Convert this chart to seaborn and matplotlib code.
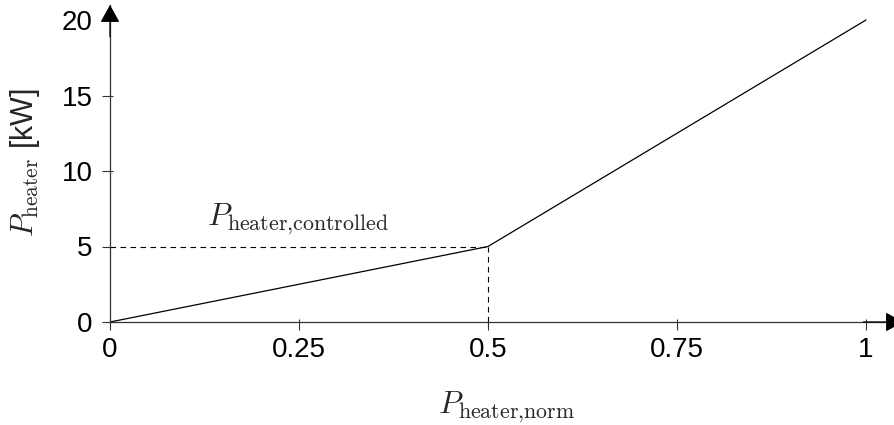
import matplotlib
matplotlib.use("Agg")
import matplotlib.pyplot as plt
import seaborn as sns
import pandas as pd

x_norm = [0.0, 0.5, 1.0]
p_heater = [0.0, 5.0, 20.0]
x_ticks = [0, 0.25, 0.5, 0.75, 1]
x_ticklabels = ["0", "0.25", "0.5", "0.75", "1"]
y_ticks = [0, 5, 10, 15, 20]
controlled_x = 0.5
controlled_y = 5.0

sns.set_theme(style="white")
plt.rcParams["font.family"] = ["Liberation Sans", "DejaVu Sans"]
plt.rcParams["mathtext.fontset"] = "cm"

W, H = 894, 425
fig = plt.figure(figsize=(W / 100, H / 100), dpi=100)
x0_px, x1_px = 110, 866        # pixel positions of x=0 and x=1
y0_px, y20_px = 322, 20        # pixel positions of y=0 and y=20
left, right, top_px = 110, 903, 5
ax = fig.add_axes([left / W, (H - y0_px) / H, (right - left) / W, (y0_px - top_px) / H])

df = pd.DataFrame({"x": x_norm, "y": p_heater})
sns.lineplot(data=df, x="x", y="y", ax=ax, color="black", linewidth=0.9)

ax.plot([0, controlled_x], [controlled_y, controlled_y], ls=(0, (5, 4)), color="black", lw=0.8)
ax.plot([controlled_x, controlled_x], [0, controlled_y], ls=(0, (5, 4)), color="black", lw=0.8)

ppx = (x1_px - x0_px)
ppy = (y0_px - y20_px) / 20
ax.set_xlim(0, (right - left) / ppx)
ax.set_ylim(0, (y0_px - top_px) / ppy)

ax.set_xticks(x_ticks)
ax.set_xticklabels(x_ticklabels)
ax.set_yticks(y_ticks)
ax.set_xticks(x_ticks, minor=True)
ax.set_yticks(y_ticks, minor=True)
ax.xaxis.remove_overlapping_locs = False
ax.yaxis.remove_overlapping_locs = False
ax.tick_params(axis="both", which="major", direction="out", length=5.5, width=0.8,
               color="#333333", labelsize=20, labelcolor="black", bottom=True, left=True)
ax.tick_params(axis="both", which="minor", direction="in", length=2.5, width=0.8,
               color="#333333", bottom=True, left=True, labelbottom=False, labelleft=False)
ax.tick_params(axis="x", which="major", pad=5)
ax.tick_params(axis="y", which="major", pad=7)

for s in ["top", "right"]:
    ax.spines[s].set_visible(False)
for s in ["left", "bottom"]:
    ax.spines[s].set_color("#333333")
    ax.spines[s].set_linewidth(0.9)

arrow = dict(arrowstyle="-|>,head_length=0.9,head_width=0.5", color="black", lw=0.9,
             shrinkA=0, shrinkB=0)
ax.annotate("", xy=(0, 1.0), xytext=(0, 0.9), xycoords="axes fraction", arrowprops=arrow,
            annotation_clip=False)
ax.annotate("", xy=(1.0, 0), xytext=(0.95, 0), xycoords="axes fraction", arrowprops=arrow,
            annotation_clip=False)

ax.set_xlabel(r"$P_{\mathrm{heater{,}norm}}$", fontsize=22.5)
ax.set_ylabel(r"$P_{\mathrm{heater}}$ [kW]", fontsize=22)
ax.xaxis.set_label_coords((506.5 - left) / (right - left), -(390 - y0_px) / (y0_px - top_px))
ax.yaxis.set_label_coords((42 - left) / (right - left), (y0_px - 162) / (y0_px - top_px))

ax.text((207 - x0_px) / ppx, (y0_px - 225) / ppy, r"$P_{\mathrm{heater{,}controlled}}$",
        fontsize=22.5, ha="left", va="baseline")

ax.grid(False)
fig.savefig("out.png", dpi=100)
